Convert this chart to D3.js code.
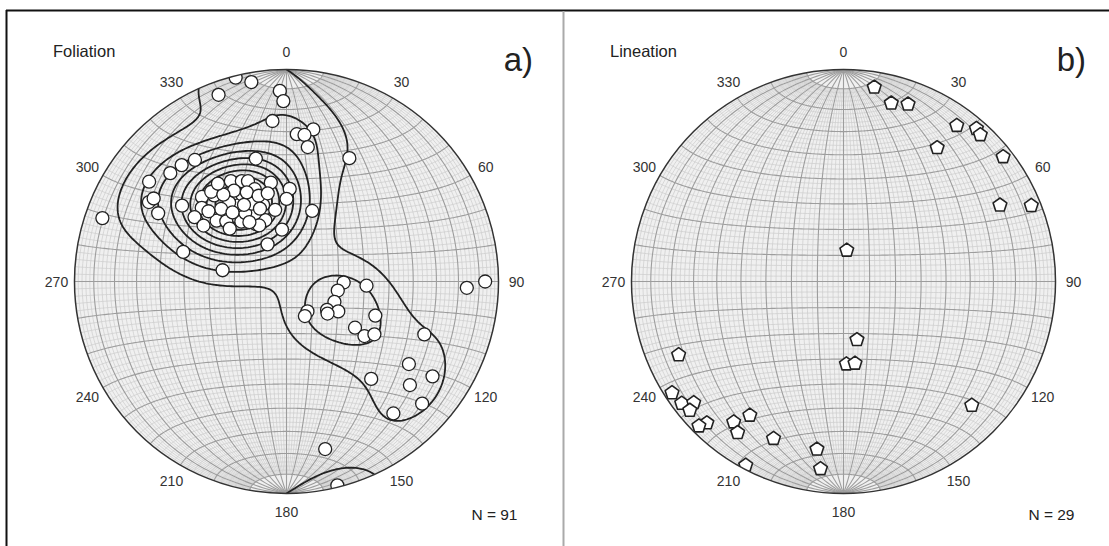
<!DOCTYPE html>
<html>
<head>
<meta charset="utf-8">
<script src="https://cdn.jsdelivr.net/npm/d3@7"></script>
<style>
  body { margin: 0; background: #fff; }
  svg { display: block; font-family: "Liberation Sans", Arial, sans-serif; }
</style>
</head>
<body>
<svg id="chart" width="1109" height="546"></svg>
<script>
// poles to foliation, lower hemisphere, degrees
var foliationTrend = [346,350,340,358,359,355,4,10,7,9,
  27,289,20,280,286,333,355,346,323,318,
  313,306,300,302,298,306,315,320,311,305,
  304,311,315,323,332,341,335,329,331,336,
  339,341,351,2,351,343,336,330,328,324,
  320,333,334,91,93,100,113,125,120,128,
  145,152,111,124,125,121,111,124,123,130,
  139,132,141,167,166,92,90,330,336,318,
  342,322,324,348,328,312,331,313,340,325,0];
var foliationPlunge = [1,5,7,11,16,25,31,28,31,36,
  35,9,61,65,48,74,70,40,29,27,
  26,21,26,27,32,39,43,46,46,46,
  51,54,57,61,65,65,61,59,45,47,
  48,52,51,54,62,59,57,51,55,52,
  44,52,66,68,59,70,70,71,67,70,
  76,75,53,58,53,50,31,31,19,25,
  39,15,21,20,1,16,7,49,52,52,
  55,56,48,55,63,49,56,60,60,43,58];

// lineations
var lineationTrend = [9,15,20,36,41,43,35,52,64,68,6,167,178,172,134,
  246,237,233,231,230,224,225,218,215,215,204,189,187,208];
var lineationPlunge = [8,14,12,10,5,6,24,5,19,5,78,67,58,58,17,
  16,4,5,10,6,8,4,17,14,24,20,21,12,2];

var azimuthLabels = [0,30,60,90,120,150,180,210,240,270,300,330];
// density levels (exponential Kamb, sigma units)
var contourLevels = [2.5,4.7,6.9,9.1,11.3,13.5,15.7,17.9,20.1,22.3];

var svg = d3.select("#chart"),
    R = 212,
    cy = 281.5,
    rad = Math.PI / 180;

var panels = [
  {id: "a", cx: 286.5, title: "Foliation", tag: "a)", tagX: 533, trend: foliationTrend, plunge: foliationPlunge, marker: "circle", contours: true},
  {id: "b", cx: 843.5, title: "Lineation", tag: "b)", tagX: 1086, trend: lineationTrend, plunge: lineationPlunge, marker: "pentagon", contours: false}
];

// frame
svg.append("line").attr("x1", 6).attr("x2", 1109).attr("y1", 10.5).attr("y2", 10.5)
  .attr("stroke", "#111").attr("stroke-width", 2);
svg.append("line").attr("x1", 6.5).attr("x2", 6.5).attr("y1", 10).attr("y2", 546)
  .attr("stroke", "#111").attr("stroke-width", 2);
svg.append("line").attr("x1", 563.5).attr("x2", 563.5).attr("y1", 11).attr("y2", 546)
  .attr("stroke", "#aaa").attr("stroke-width", 2);

// net lines
var minorLines = [], majorLines = [];
function meridian(lon, maxLat){
  return {type: "LineString", coordinates: d3.range(-maxLat, maxLat + 0.5, 1).map(lat => [lon, lat])};
}
function parallel(lat){
  return {type: "LineString", coordinates: d3.range(-90, 90.5, 1).map(lon => [lon, lat])};
}
for (var lon = -88; lon <= 88; lon += 2) {
  if (lon % 10 === 0) majorLines.push(meridian(lon, 90));
  else minorLines.push(meridian(lon, 80));
}
for (var lat = -80; lat <= 80; lat += 2) {
  if (lat % 10 === 0) majorLines.push(parallel(lat));
  else minorLines.push(parallel(lat));
}

function toVector(t, p){
  var tr = t * rad, pr = p * rad;
  return [Math.cos(pr) * Math.sin(tr), Math.cos(pr) * Math.cos(tr), Math.sin(pr)]; // east, north, down
}
function toLonLat(v){
  return [Math.atan2(v[0], v[2]) / rad, Math.asin(v[1]) / rad];
}

function pentagon(r){
  return d3.line().curve(d3.curveLinearClosed)(d3.range(5).map(k => {
    var a = (-90 + k * 72) * rad;
    return [r * Math.cos(a), r * Math.sin(a)];
  }));
}

function densityGrid(vecs, n, ext){
  var N = vecs.length, sigma = 3;
  var f = 2 * (1 + N / (sigma * sigma));
  var units = Math.sqrt(N * (f / 2 - 1) / (f * f));
  var values = new Float64Array(n * n);
  for (var j = 0; j < n; j++) {
    for (var i = 0; i < n; i++) {
      var X = -ext + (i + 0.5) * 2 * ext / n,
          Y = ext - (j + 0.5) * 2 * ext / n;
      var rho = Math.min(Math.hypot(X, Y), Math.SQRT2 - 1e-9);
      var c = 2 * Math.asin(rho / Math.SQRT2), az = Math.atan2(X, Y);
      var g = [Math.sin(c) * Math.sin(az), Math.sin(c) * Math.cos(az), Math.cos(c)];
      var s = 0;
      vecs.forEach(v => {
        s += Math.exp(f * (Math.abs(v[0] * g[0] + v[1] * g[1] + v[2] * g[2]) - 1));
      });
      values[j * n + i] = s / units;
    }
  }
  return values;
}

panels.forEach(p => {
  var proj = d3.geoAzimuthalEqualArea()
    .rotate([0, 0]).clipAngle(90)
    .scale(R / Math.SQRT2).translate([p.cx, cy]).precision(0.2);
  var path = d3.geoPath(proj);
  var g = svg.append("g");

  g.append("clipPath").attr("id", "clip-" + p.id)
    .append("circle").attr("cx", p.cx).attr("cy", cy).attr("r", R);

  g.append("circle").attr("cx", p.cx).attr("cy", cy).attr("r", R).attr("fill", "#f0f0f0");
  g.append("g").selectAll("path").data(minorLines).join("path")
    .attr("d", path).attr("fill", "none").attr("stroke", "#cbcbcb").attr("stroke-width", 0.7);
  g.append("g").selectAll("path").data(majorLines).join("path")
    .attr("d", path).attr("fill", "none").attr("stroke", "#9d9d9d").attr("stroke-width", 1.1);

  var vecs = p.trend.map((t, k) => toVector(t, p.plunge[k]));

  if (p.contours) {
    var n = 200, ext = 1.1;
    var values = densityGrid(vecs, n, ext);
    var polys = d3.contours().size([n, n]).thresholds(contourLevels)(values);
    var gridPath = d3.geoPath(d3.geoIdentity().scale(2 * ext * R / n).translate([p.cx - ext * R, cy - ext * R]));
    g.append("g").attr("clip-path", "url(#clip-" + p.id + ")")
      .selectAll("path").data(polys).join("path")
      .attr("d", gridPath).attr("fill", "none")
      .attr("stroke", "#222").attr("stroke-width", 1.8).attr("stroke-linejoin", "round");
  }

  var pts = g.append("g").attr("clip-path", "url(#clip-" + p.id + ")");
  var xy = vecs.map(v => proj(toLonLat(v)));
  if (p.marker === "circle") {
    pts.selectAll("circle").data(xy).join("circle")
      .attr("cx", d => d[0]).attr("cy", d => d[1]).attr("r", 6.5)
      .attr("fill", "#fff").attr("stroke", "#222").attr("stroke-width", 1.3);
  } else {
    pts.selectAll("path").data(xy).join("path")
      .attr("d", pentagon(7.2))
      .attr("transform", d => "translate(" + d[0] + "," + d[1] + ")")
      .attr("fill", "#fff").attr("stroke", "#222").attr("stroke-width", 1.6).attr("stroke-linejoin", "round");
  }

  g.append("circle").attr("cx", p.cx).attr("cy", cy).attr("r", R)
    .attr("fill", "none").attr("stroke", "#333").attr("stroke-width", 1.5);

  g.append("g").selectAll("text").data(azimuthLabels).join("text")
    .attr("x", d => p.cx + 230 * Math.sin(d * rad))
    .attr("y", d => cy - 230 * Math.cos(d * rad))
    .attr("text-anchor", "middle").attr("dominant-baseline", "central")
    .attr("font-size", 14).attr("fill", "#333")
    .text(d => d);

  g.append("text").attr("x", p.cx - 233.5).attr("y", 57)
    .attr("font-size", 16.5).attr("fill", "#222").text(p.title);
  g.append("text").attr("x", p.tagX).attr("y", 71).attr("text-anchor", "end")
    .attr("font-size", 33).attr("fill", "#222").text(p.tag);
  g.append("text").attr("x", p.cx + 231).attr("y", 520).attr("text-anchor", "end")
    .attr("font-size", 15.5).attr("fill", "#222").text("N = " + p.trend.length);
});
</script>
</body>
</html>
